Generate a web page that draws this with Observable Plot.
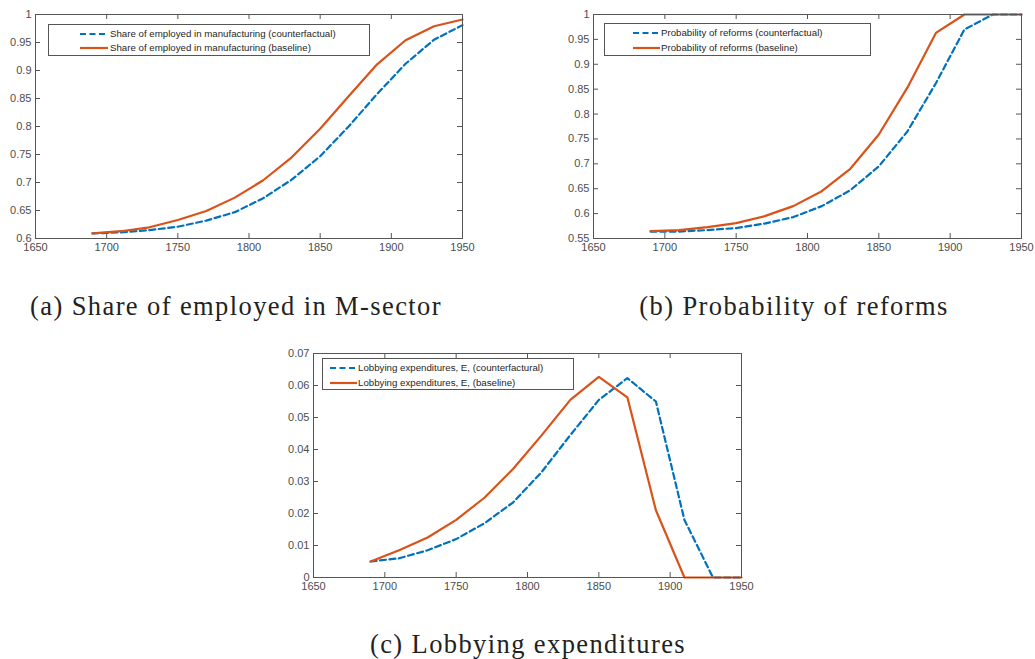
<!DOCTYPE html>
<html>
<head>
<meta charset="utf-8">
<script src="https://cdn.jsdelivr.net/npm/d3@7"></script>
<script src="https://cdn.jsdelivr.net/npm/@observablehq/plot@0.6"></script>
<style>
  html, body { margin: 0; padding: 0; background: #fff; }
  #root { position: relative; width: 1035px; height: 659px; overflow: hidden; background: #fff; }
  .panel { position: absolute; }
  .legend { position: absolute; background: #fff; border: 1px solid #555; box-sizing: border-box;
            font-family: "Liberation Sans", Arial, sans-serif; font-size: 9.7px; color: #262626; }
  .legend .row { position: absolute; left: 0; white-space: nowrap; line-height: 12px; height: 12px; }
  .legend svg { position: absolute; top: 0; }
  .legend span { position: absolute; top: 0; }
  .caption { position: absolute; font-family: "Liberation Serif", "Times New Roman", serif; font-size: 26.5px;
             letter-spacing: 1.4px; color: #222; white-space: nowrap; transform: translateX(-50%); }
</style>
</head>
<body>
<div id="root"></div>
<script>
// ---- data ----
const years = [1690, 1710, 1730, 1750, 1770, 1790, 1810, 1830, 1850, 1870, 1890, 1910, 1930, 1950];

const shareCounterfactual = [0.609, 0.611, 0.615, 0.621, 0.632, 0.647, 0.672, 0.705, 0.747, 0.800, 0.858, 0.912, 0.955, 0.981];
const shareBaseline       = [0.609, 0.613, 0.620, 0.633, 0.649, 0.673, 0.704, 0.745, 0.796, 0.854, 0.911, 0.954, 0.979, 0.991];

const reformCounterfactual = [0.564, 0.564, 0.567, 0.571, 0.580, 0.593, 0.615, 0.647, 0.695, 0.765, 0.862, 0.970, 1.000, 1.000];
const reformBaseline       = [0.565, 0.567, 0.573, 0.581, 0.595, 0.615, 0.645, 0.690, 0.759, 0.853, 0.963, 1.000, 1.000, 1.000];

const lobbyCounterfactual = [0.0050, 0.0060, 0.0085, 0.0120, 0.0170, 0.0235, 0.0330, 0.0445, 0.0555, 0.0623, 0.0550, 0.0180, 0.0000, 0.0000];
const lobbyBaseline       = [0.0050, 0.0085, 0.0125, 0.0180, 0.0250, 0.0340, 0.0445, 0.0555, 0.0627, 0.0563, 0.0210, 0.0000, 0.0000, 0.0000];

const xTicks = [1650, 1700, 1750, 1800, 1850, 1900, 1950];
const yTicksA = [0.6, 0.65, 0.7, 0.75, 0.8, 0.85, 0.9, 0.95, 1];
const yTicksB = [0.55, 0.6, 0.65, 0.7, 0.75, 0.8, 0.85, 0.9, 0.95, 1];
const yTicksC = [0, 0.01, 0.02, 0.03, 0.04, 0.05, 0.06, 0.07];

const legendA = ["Share of employed in manufacturing (counterfactual)", "Share of employed in manufacturing (baseline)"];
const legendB = ["Probability of reforms (counterfactual)", "Probability of reforms (baseline)"];
const legendC = ["Lobbying expenditures, E, (counterfactural)", "Lobbying expenditures, E, (baseline)"];

const captions = ["(a) Share of employed in M-sector", "(b) Probability of reforms", "(c) Lobbying expenditures"];

// ---- style ----
const BLUE = "#0072BD";
const RED = "#D95319";
const AXIS = "#555";
const DASH = "6,3.5";

function series(cf, base) {
  return years.flatMap((yr, i) => [
    {year: yr, value: cf[i], s: "cf"},
    {year: yr, value: base[i], s: "base"}
  ]);
}

function panel(opts) {
  const {cf, base, yTicks, left, top, width, height, ml, mr, mt, mb} = opts;
  const data = series(cf, base);
  const fw = width - ml - mr, fh = height - mt - mb, t = 5;
  const fmt = d => String(Math.round(d * 10000) / 10000);
  const chart = Plot.plot({
    width, height, marginLeft: ml, marginRight: mr, marginTop: mt, marginBottom: mb,
    style: {fontFamily: "'Liberation Sans', Arial, sans-serif", fontSize: "11px", color: "#4d4d4d", background: "transparent", overflow: "visible"},
    x: {domain: [xTicks[0], xTicks[xTicks.length - 1]]},
    y: {domain: [yTicks[0], yTicks[yTicks.length - 1]]},
    marks: [
      Plot.axisX({ticks: xTicks, tickSize: 0, tickPadding: 5, tickFormat: d => String(d), label: null}),
      Plot.axisY({ticks: yTicks, tickSize: 0, tickPadding: 4, tickFormat: fmt, label: null}),
      Plot.ruleX(xTicks, {x: d => d, insetTop: fh - t, stroke: AXIS}),
      Plot.ruleX(xTicks, {x: d => d, insetBottom: fh - t, stroke: AXIS}),
      Plot.ruleY(yTicks, {y: d => d, insetRight: fw - t, stroke: AXIS}),
      Plot.ruleY(yTicks, {y: d => d, insetLeft: fw - t, stroke: AXIS}),
      Plot.line(data.filter(d => d.s === "cf"), {x: "year", y: "value", stroke: BLUE, strokeWidth: 2.2, strokeDasharray: DASH}),
      Plot.line(data.filter(d => d.s === "base"), {x: "year", y: "value", stroke: RED, strokeWidth: 2.2}),
      Plot.frame({stroke: AXIS})
    ]
  });
  const div = document.createElement("div");
  div.className = "panel";
  div.style.left = left + "px";
  div.style.top = top + "px";
  div.appendChild(chart);
  document.getElementById("root").appendChild(div);
}

function legend(labels, box, sx, sw, tx, rows) {
  const lg = document.createElement("div");
  lg.className = "legend";
  lg.style.left = box[0] + "px"; lg.style.top = box[1] + "px";
  lg.style.width = box[2] + "px"; lg.style.height = box[3] + "px";
  labels.forEach((lab, i) => {
    const row = document.createElement("div");
    row.className = "row";
    row.style.top = (rows[i] - box[1] - 1 - 6) + "px";
    const dash = i === 0 ? `stroke-dasharray="${DASH}"` : "";
    row.innerHTML = `<svg width="${sw}" height="12" style="left:${sx - box[0] - 1}px"><line x1="0" x2="${sw}" y1="6" y2="6" stroke="${i === 0 ? BLUE : RED}" stroke-width="2.2" ${dash}/></svg>` +
      `<span style="left:${tx - box[0] - 1}px">${lab}</span>`;
    lg.appendChild(row);
  });
  document.getElementById("root").appendChild(lg);
}

function caption(text, cx, top) {
  const c = document.createElement("div");
  c.className = "caption";
  c.textContent = text;
  c.style.left = cx + "px";
  c.style.top = top + "px";
  document.getElementById("root").appendChild(c);
}

panel({cf: shareCounterfactual, base: shareBaseline, yTicks: yTicksA, left: 0, top: 0, width: 480, height: 262, ml: 35, mr: 18, mt: 14, mb: 24});
panel({cf: reformCounterfactual, base: reformBaseline, yTicks: yTicksB, left: 540, top: 0, width: 495, height: 262, ml: 53, mr: 14, mt: 14, mb: 24});
panel({cf: lobbyCounterfactual, base: lobbyBaseline, yTicks: yTicksC, left: 270, top: 340, width: 490, height: 261, ml: 43, mr: 19, mt: 13, mb: 24});

legend(legendA, [48, 24, 322, 32], 80, 28, 110, [33.7, 48.3]);
legend(legendB, [604, 23, 267, 33], 633, 27, 661, [32.7, 48.3]);
legend(legendC, [322, 358, 252, 32], 330, 27, 358, [368.3, 383.3]);

caption(captions[0], 236, 291);
caption(captions[1], 794, 291);
caption(captions[2], 528, 629);
</script>
</body>
</html>
